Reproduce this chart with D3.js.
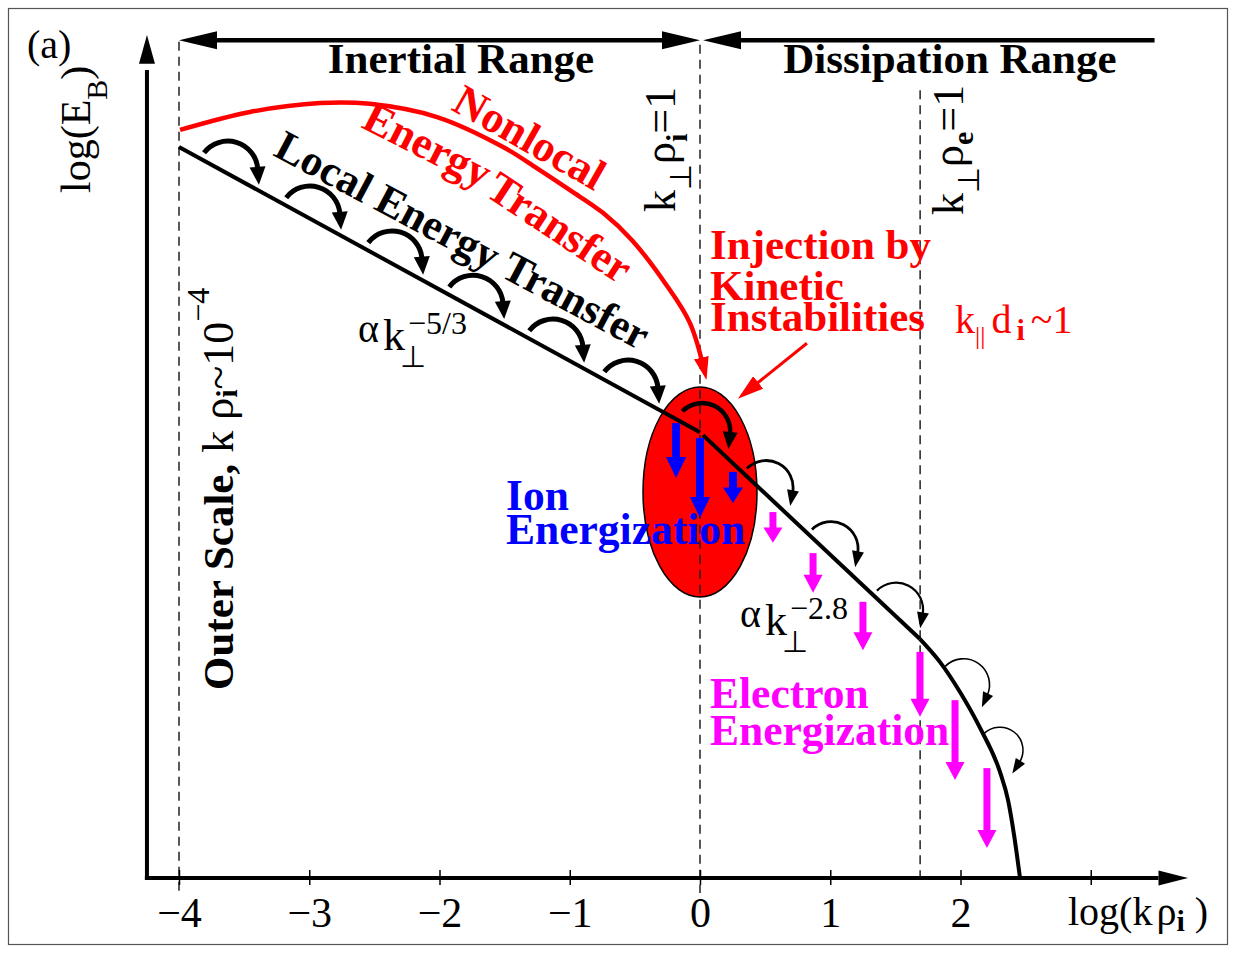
<!DOCTYPE html>
<html><head><meta charset="utf-8">
<script src="https://cdn.jsdelivr.net/npm/d3@7"></script>
<style>body{margin:0;background:#fff}svg{display:block}</style>
</head><body>
<svg id="c" width="1236" height="953"></svg>
<script>
// ---------- data (x = log(k rho_i), y = log(E_B), arbitrary units) ----------
const xTicks = [-4, -3, -2, -1, 0, 1, 2, 3];
const xTickLabels = ["\u22124", "\u22123", "\u22122", "\u22121", "0", "1", "2", ""];
const rangeMarks = [-4, 0, 1.69];            // outer scale, k_perp rho_i = 1, k_perp rho_e = 1
const inertialLine = [[-4, 17.1], [0, 10.43]];                 // ~ k^-5/3
const dissipLine = [[0.023, 10.36], [1.689, 5.59]];            // ~ k^-2.8
const steepLine = [[1.689, 5.59], [1.843, 5.05], [1.996, 4.35], [2.150, 3.51], [2.303, 2.48],
                   [2.365, 1.82], [2.411, 1.01], [2.457, 0.0]];
const nonlocalCurve = [[-3.992, 17.50], [-3.455, 17.92], [-2.917, 18.13], [-2.534, 18.11], [-2.019, 17.80],
                       [-1.512, 17.10], [-1.251, 16.60], [-0.998, 16.09], [-0.745, 15.56], [-0.522, 14.92],
                       [-0.269, 13.92], [-0.077, 12.98], [0.036, 11.83]];
const injectionArrow = [[0.821, 12.51], [0.327, 11.30]];
const injectionRegion = [0, 9.03, 0.4376, 2.456];   // cx, cy, rx, ry
const ionArrows = [[-0.184, 10.64, 9.357], [0, 10.29, 8.42], [0.253, 9.50, 8.77]];
const electronArrows = [[0.560, 8.56, 7.84], [0.868, 7.60, 6.67], [1.251, 6.46, 5.33],
                        [1.689, 5.29, 3.77], [1.958, 4.16, 2.29], [2.203, 2.57, 0.70]];
const inertialArcs = [-3.634, -3.003, -2.373, -1.751, -1.137, -0.561, 0.007];
const dissipArcs = [0.481, 0.980, 1.479, 1.978, 2.240];

// ---------- setup ----------
const FONT = '"Liberation Serif","Times New Roman",Times,serif';
const svg = d3.select('#c').attr('font-family', FONT);
const x = d3.scaleLinear().domain([-4, 3]).range([179, 1090.75]);
const y = d3.scaleLinear().domain([0, 19.72]).range([878, 35]);
const defs = svg.append('defs');
function marker(id, color, L, hw, ref) {
  defs.append('marker').attr('id', id).attr('markerUnits', 'userSpaceOnUse')
    .attr('viewBox', `${-L} ${-hw} ${L} ${2 * hw}`).attr('refX', ref).attr('refY', 0)
    .attr('markerWidth', L).attr('markerHeight', 2 * hw).attr('orient', 'auto')
    .append('path').attr('d', `M0,0L${-L},${-hw}L${-L},${hw}Z`).attr('fill', color);
}
marker('redHead', '#ff0000', 23, 7.5, -8);
marker('injHead', '#ff0000', 26, 8, -6);

// frame
svg.append('rect').attr('x', 8.5).attr('y', 8.5).attr('width', 1219).attr('height', 936)
  .attr('fill', 'none').attr('stroke', '#555').attr('stroke-width', 1.2);

// injection region ellipse
svg.append('ellipse').attr('cx', x(injectionRegion[0])).attr('cy', y(injectionRegion[1]))
  .attr('rx', x(injectionRegion[2]) - x(0)).attr('ry', y(0) - y(injectionRegion[3]))
  .attr('fill', '#ff0000').attr('stroke', '#000').attr('stroke-width', 1.5);

// dashed range markers
const dashTop = [19.56, 19.49, 18.43], dashBot = [-0.351, -0.351, 0];
svg.selectAll('line.dash').data(rangeMarks).join('line').attr('class', 'dash')
  .attr('x1', d => x(d)).attr('x2', d => x(d))
  .attr('y1', (d, i) => y(dashTop[i])).attr('y2', (d, i) => y(dashBot[i]))
  .attr('stroke', '#222').attr('stroke-width', 1.5).attr('stroke-dasharray', '9,6');

// axes
const axG = svg.append('g');
axG.append('line').attr('x1', x(-4.262)).attr('x2', x(3.52)).attr('y1', y(0)).attr('y2', y(0))
  .attr('stroke', '#000').attr('stroke-width', 4);
axG.append('path').attr('d', `M${x(3.747)},${y(0)}L${x(3.52)},${y(0) - 7.5}L${x(3.52)},${y(0) + 7.5}Z`);
axG.append('line').attr('x1', x(-4.246)).attr('x2', x(-4.246)).attr('y1', y(-0.04)).attr('y2', y(18.9))
  .attr('stroke', '#000').attr('stroke-width', 4);
axG.append('path').attr('d', `M${x(-4.246)},${y(19.72)}L${x(-4.246) - 8},${y(19.05)}L${x(-4.246) + 8},${y(19.05)}Z`);

const gx = svg.append('g').attr('transform', `translate(0,${y(0)})`)
  .call(d3.axisBottom(x).tickValues(xTicks).tickFormat((d, i) => xTickLabels[i]).tickSize(0));
gx.attr('font-family', FONT).attr('font-size', 42);
gx.select('.domain').remove();
gx.selectAll('.tick line').attr('y1', -8).attr('y2', 7).attr('stroke', '#000').attr('stroke-width', 1.5);
gx.selectAll('.tick text').attr('y', 49).attr('dy', 0).attr('fill', '#000');

// top range arrows
const yTop = y(19.6);
svg.append('line').attr('x1', x(-4) + 20).attr('x2', x(0) - 20).attr('y1', yTop).attr('y2', yTop)
  .attr('stroke', '#000').attr('stroke-width', 4.5);
svg.append('line').attr('x1', x(0.023) + 20).attr('x2', x(3.49)).attr('y1', yTop).attr('y2', yTop)
  .attr('stroke', '#000').attr('stroke-width', 4.5);
[[x(-4), 1], [x(0), -1], [x(0.023), 1]].forEach(([tx, dir]) => {
  svg.append('path').attr('d', `M${tx},${yTop}L${tx + dir * 38},${yTop - 9}L${tx + dir * 38},${yTop + 9}Z`).attr('fill', '#000');
});

// spectrum
const line = d3.line().x(d => x(d[0])).y(d => y(d[1]));
svg.append('path').attr('d', line(inertialLine)).attr('fill', 'none').attr('stroke', '#000').attr('stroke-width', 4);
svg.append('path').attr('d', line(dissipLine)).attr('fill', 'none').attr('stroke', '#000').attr('stroke-width', 4);
svg.append('path').attr('d', d3.line().x(d => x(d[0])).y(d => y(d[1])).curve(d3.curveMonotoneX)(steepLine)).attr('fill', 'none')
  .attr('stroke', '#000').attr('stroke-width', 4).attr('stroke-linejoin', 'round');

// nonlocal transfer curve
svg.append('path').attr('d', d3.line().x(d => x(d[0])).y(d => y(d[1])).curve(d3.curveCatmullRom.alpha(0.5))(nonlocalCurve))
  .attr('fill', 'none').attr('stroke', '#ff0000').attr('stroke-width', 4.5).attr('marker-end', 'url(#redHead)');
// injection arrow
svg.append('path').attr('d', d3.line().x(d => x(d[0])).y(d => y(d[1]))(injectionArrow))
  .attr('fill', 'none').attr('stroke', '#ff0000').attr('stroke-width', 3).attr('marker-end', 'url(#injHead)');

// local transfer arcs
function lineYAt(xd) {
  const pts = xd < 0.01 ? inertialLine : (xd < dissipLine[1][0] ? dissipLine : steepLine);
  for (let i = 0; i < pts.length - 1; i++) {
    if (xd <= pts[i + 1][0] || i === pts.length - 2) {
      const t = (xd - pts[i][0]) / (pts[i + 1][0] - pts[i][0]);
      return pts[i][1] + t * (pts[i + 1][1] - pts[i][1]);
    }
  }
}
const arcG = svg.append('g');
function arcArrow(xd, o) {
  const h = 0.03;
  const xa = x(xd - h), xb = x(xd + h), ya = y(lineYAt(xd - h)), yb = y(lineYAt(xd + h));
  const phi = Math.atan2(yb - ya, xb - xa);
  const px = x(xd), py = y(lineYAt(xd));
  const cx = px + Math.sin(phi) * o.off, cy = py - Math.cos(phi) * o.off;
  const deg = Math.PI / 180;
  const a0 = Math.PI + Math.min(phi + 9 * deg, 45 * deg);
  const a1 = 2 * Math.PI + phi - 33 * deg;
  const p = d3.path(); p.arc(cx, cy, o.r, a0, a1, false);
  arcG.append('path').attr('d', p.toString()).attr('fill', 'none').attr('stroke', '#000').attr('stroke-width', o.sw);
  const ex = cx + o.r * Math.cos(a1), ey = cy + o.r * Math.sin(a1);
  const tx = -Math.sin(a1), ty = Math.cos(a1), qx = -ty, qy = tx;
  const bx = ex - tx * 2, by = ey - ty * 2;
  arcG.append('path').attr('d', `M${ex + tx * o.L},${ey + ty * o.L}L${bx + qx * o.hw},${by + qy * o.hw}L${bx - qx * o.hw},${by - qy * o.hw}Z`)
    .attr('fill', '#000');
}
inertialArcs.forEach((d, i) => arcArrow(d, i < 6 ? { r: 30, off: 2.3, sw: 5, L: 16, hw: 8 } : { r: 28, off: 2, sw: 4.5, L: 15, hw: 7.5 }));
const dStyles = [{ r: 27, off: 5, sw: 2.8, L: 14, hw: 6 }, { r: 27, off: 5, sw: 2.8, L: 14, hw: 6 },
                 { r: 27, off: 5, sw: 2.2, L: 14, hw: 6 }, { r: 26, off: 7, sw: 1.6, L: 13, hw: 5.5 },
                 { r: 23, off: 9, sw: 1.5, L: 13, hw: 5.5 }];
dissipArcs.forEach((d, i) => arcArrow(d, dStyles[i]));

// energization arrows
const arrG = svg.append('g');
function vArrow(a, color, sw, hw, Lmax) {
  const X = x(a[0]), Y0 = y(a[1]), Y1 = y(a[2]);
  const L = Math.min(Lmax, 0.5 * (Y1 - Y0));
  arrG.append('line').attr('x1', X).attr('x2', X).attr('y1', Y0).attr('y2', Y1 - L + 1)
    .attr('stroke', color).attr('stroke-width', sw);
  arrG.append('path').attr('d', `M${X},${Y1}L${X - hw},${Y1 - L}L${X + hw},${Y1 - L}Z`).attr('fill', color);
}
ionArrows.forEach(a => vArrow(a, '#0000ff', 8, 10, 21));
electronArrows.forEach(a => vArrow(a, '#ff00ff', 7, 9.5, 18));

// ---------- text ----------
function txt(px, py, str, o = {}) {
  return svg.append('text').attr('x', px).attr('y', py).text(str)
    .attr('font-size', o.size || 42).attr('font-weight', o.bold ? 'bold' : 'normal')
    .attr('fill', o.color || '#000').attr('text-anchor', o.anchor || 'start')
    .attr('transform', o.rot ? `rotate(${o.rot},${px},${py})` : null);
}
function rich(px, py, parts, o = {}) {
  const t = svg.append('text').attr('transform', `translate(${px},${py})` + (o.rot ? ` rotate(${o.rot})` : ''))
    .attr('font-size', o.size || 42).attr('fill', o.color || '#000');
  parts.forEach(p => {
    const s = t.append('tspan').text(p.t);
    if (p.size) s.attr('font-size', p.size);
    if (p.bold) s.attr('font-weight', 'bold');
    if (p.dy) s.attr('dy', p.dy);
    if (p.dx) s.attr('dx', p.dx);
  });
  return t;
}
txt(27, 58, '(a)', { size: 40 });
rich(90, 193, [{ t: 'log(E' }, { t: 'B', size: 30, dy: 17 }, { t: ')', dy: -17 }], { rot: -90, size: 42 });
rich(1068, 925, [{ t: 'log(k' }, { t: '\u03c1', dx: 4 }, { t: 'i', size: 30, bold: true, dy: 6 }, { t: ' )', dy: -6 }], { size: 40 });

txt(x(-1.835), y(19.6) + 33, 'Inertial Range', { bold: true, size: 43, anchor: 'middle' });
txt(x(1.919), y(19.6) + 33, 'Dissipation Range', { bold: true, size: 43, anchor: 'middle' });

const P = (a, b) => [x(a), y(b)];
let p;
p = P(-1.919, 17.98); txt(p[0], p[1], 'Nonlocal', { bold: true, size: 44, color: '#ff0000', rot: 29.5 });
p = P(-2.610, 17.57); txt(p[0], p[1], 'Energy', { bold: true, size: 44, color: '#ff0000', rot: 27 });
p = P(-1.660, 15.98); txt(p[0], p[1], 'Transfer', { bold: true, size: 44, color: '#ff0000', rot: 33.5 });
p = P(-3.286, 16.91); txt(p[0], p[1], 'Local Energy Transfer', { bold: true, size: 43, rot: 28 });

function powerLabel(kx, ky, sup) {
  txt(kx - 25, ky - 8, '\u03b1', { size: 40 });
  txt(kx, ky, 'k', { size: 44 });
  txt(kx + 17, ky + 17, '\u22a5', { size: 30 });
  txt(kx + 25, ky - 16, sup, { size: 32 });
}
p = P(-2.434, 12.35); powerLabel(p[0], p[1], '\u22125/3');
p = P(0.499, 5.68); powerLabel(p[0], p[1], '\u22122.8');

p = P(-0.192, 15.58);
rich(p[0], p[1], [{ t: 'k' }, { t: '\u22a5', size: 30, dy: 16 }, { t: '\u03c1', dy: -16 }, { t: 'i', size: 30, bold: true, dy: 12 }, { t: '=1', dy: -12 }], { rot: -90, size: 44 });
p = P(2.019, 15.51);
rich(p[0], p[1], [{ t: 'k' }, { t: '\u22a5', size: 30, dy: 16 }, { t: '\u03c1', dy: -16 }, { t: 'e', size: 30, bold: true, dy: 10 }, { t: '=1', dy: -10 }], { rot: -90, size: 44 });

[['Injection by', 14.48], ['Kinetic', 13.52], ['Instabilities', 12.80]].forEach(([s, yy]) => {
  p = P(0.077, yy); txt(p[0], p[1], s, { bold: true, size: 43, color: '#ff0000' });
});
p = P(1.958, 12.75);
rich(p[0], p[1], [{ t: 'k' }, { t: '||', size: 26, dy: 11 }, { t: 'd', dy: -11, dx: 6 }, { t: 'i', size: 30, bold: true, dy: 7, dx: 5 }, { t: '~1', dy: -7, dx: 6 }], { size: 40, color: '#ff0000' });

p = P(-1.489, 8.61); txt(p[0], p[1], 'Ion', { bold: true, size: 43.5, color: '#0000ff' });
p = P(-1.489, 7.81); txt(p[0], p[1], 'Energization', { bold: true, size: 43.5, color: '#0000ff' });
p = P(0.077, 3.98); txt(p[0], p[1], 'Electron', { bold: true, size: 43.5, color: '#ff00ff' });
p = P(0.077, 3.11); txt(p[0], p[1], 'Energization', { bold: true, size: 43.5, color: '#ff00ff' });

p = P(-3.585, 4.40);
rich(p[0], p[1], [{ t: 'Outer Scale,', bold: true, size: 43 }, { t: ' k \u03c1' }, { t: 'i', size: 30, bold: true, dy: 4 }, { t: '~10', dy: -4 }, { t: '\u22124', size: 32, dy: -24 }], { rot: -90, size: 44 });
</script>
</body></html>
